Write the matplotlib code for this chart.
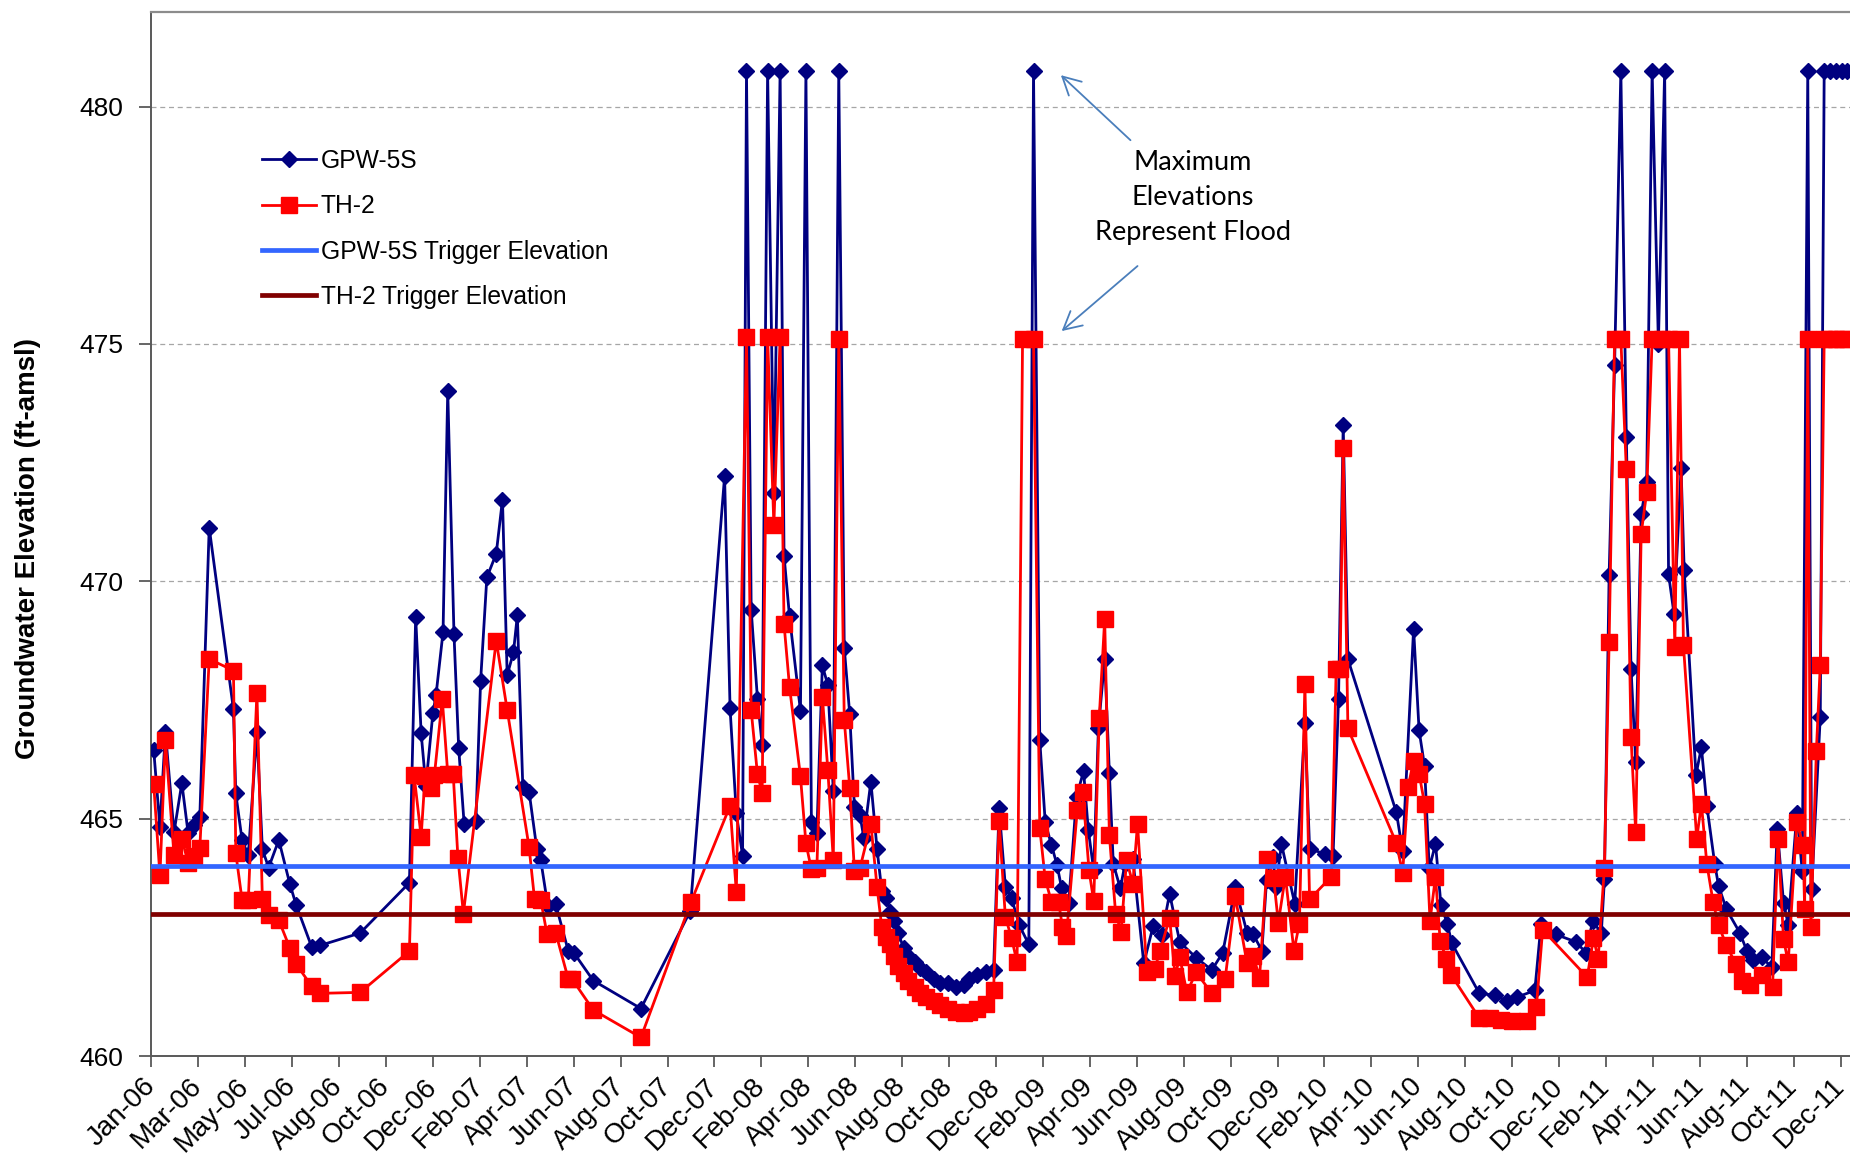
"""
Groundwater elevations at GPW-5S and TH-2 with trigger elevations, 2006-2011
"""

import pandas as pd
import matplotlib
matplotlib.use("Agg")
import matplotlib.pyplot as plt
import matplotlib.dates as mdates

# ---- data ----
gpw_dates = [
    "2006-01-06", "2006-01-14", "2006-01-21", "2006-02-01", "2006-02-11", "2006-02-19", "2006-02-26", "2006-03-06", "2006-03-18", "2006-04-18",
    "2006-04-21", "2006-04-29", "2006-05-07", "2006-05-18", "2006-05-25", "2006-06-02", "2006-06-15", "2006-06-29", "2006-07-07", "2006-07-27",
    "2006-08-07", "2006-09-27", "2006-11-29", "2006-12-07", "2006-12-14", "2006-12-20", "2006-12-29", "2007-01-02", "2007-01-11", "2007-01-17",
    "2007-01-25", "2007-01-31", "2007-02-07", "2007-02-22", "2007-02-28", "2007-03-08", "2007-03-20", "2007-03-28", "2007-04-03", "2007-04-11",
    "2007-04-16", "2007-04-23", "2007-05-01", "2007-05-11", "2007-05-16", "2007-05-25", "2007-06-04", "2007-06-20", "2007-06-27", "2007-07-22",
    "2007-09-21", "2007-11-23", "2008-01-06", "2008-01-13", "2008-01-21", "2008-01-29", "2008-02-03", "2008-02-09", "2008-02-17", "2008-02-23",
    "2008-03-01", "2008-03-09", "2008-03-17", "2008-03-22", "2008-03-29", "2008-04-12", "2008-04-19", "2008-04-26", "2008-05-03", "2008-05-10",
    "2008-05-17", "2008-05-24", "2008-05-31", "2008-06-07", "2008-06-14", "2008-06-20", "2008-06-27", "2008-07-02", "2008-07-11", "2008-07-19",
    "2008-07-25", "2008-07-31", "2008-08-05", "2008-08-10", "2008-08-15", "2008-08-22", "2008-08-28", "2008-09-05", "2008-09-12", "2008-09-20",
    "2008-09-30", "2008-10-07", "2008-10-18", "2008-10-28", "2008-11-07", "2008-11-14", "2008-11-24", "2008-12-05", "2008-12-15", "2008-12-22",
    "2008-12-30", "2009-01-07", "2009-01-17", "2009-01-29", "2009-02-04", "2009-02-12", "2009-02-19", "2009-02-27", "2009-03-06", "2009-03-12",
    "2009-03-21", "2009-03-31", "2009-04-09", "2009-04-15", "2009-04-22", "2009-04-28", "2009-05-06", "2009-05-12", "2009-05-17", "2009-05-26",
    "2009-06-01", "2009-06-11", "2009-06-25", "2009-07-07", "2009-07-18", "2009-07-28", "2009-08-10", "2009-08-31", "2009-09-20", "2009-10-04",
    "2009-10-20", "2009-11-04", "2009-11-12", "2009-11-23", "2009-11-29", "2009-12-07", "2009-12-11", "2009-12-18", "2010-01-04", "2010-01-17",
    "2010-01-23", "2010-02-12", "2010-02-22", "2010-03-01", "2010-03-07", "2010-03-13", "2010-05-14", "2010-05-22", "2010-06-05", "2010-06-12",
    "2010-06-19", "2010-06-25", "2010-07-03", "2010-07-10", "2010-07-18", "2010-07-24", "2010-08-28", "2010-09-17", "2010-10-02", "2010-10-15",
    "2010-11-07", "2010-11-15", "2010-12-04", "2010-12-30", "2011-01-11", "2011-01-20", "2011-01-31", "2011-02-04", "2011-02-10", "2011-02-17",
    "2011-02-25", "2011-03-04", "2011-03-10", "2011-03-16", "2011-03-23", "2011-03-30", "2011-04-06", "2011-04-14", "2011-04-22", "2011-04-27",
    "2011-05-04", "2011-05-13", "2011-05-17", "2011-06-01", "2011-06-08", "2011-06-15", "2011-06-25", "2011-06-30", "2011-07-10", "2011-07-27",
    "2011-08-05", "2011-08-13", "2011-08-24", "2011-09-06", "2011-09-13", "2011-09-21", "2011-09-27", "2011-10-08", "2011-10-15", "2011-10-22",
    "2011-10-27", "2011-11-07", "2011-11-12", "2011-11-20", "2011-11-27", "2011-12-05", "2011-12-11",
]
gpw_elev = [
    466.45, 464.83, 466.83, 464.71, 465.75, 464.70, 464.87, 465.04, 471.13, 467.30,
    465.53, 464.55, 464.23, 466.83, 464.35, 463.97, 464.55, 463.63, 463.19, 462.30,
    462.33, 462.59, 463.65, 469.25, 466.80, 465.69, 467.22, 467.60, 468.93, 474.01,
    468.88, 466.49, 464.88, 464.94, 467.89, 470.08, 470.58, 471.72, 468.02, 468.50,
    469.28, 465.66, 465.57, 464.35, 464.12, 463.16, 463.20, 462.22, 462.18, 461.59,
    461.00, 463.05, 472.21, 467.32, 465.11, 464.22, 480.75, 469.40, 467.53, 466.56,
    480.75, 471.85, 480.75, 470.54, 469.26, 467.27, 480.75, 464.92, 464.70, 468.23,
    467.81, 465.59, 480.75, 468.60, 467.20, 465.25, 465.08, 464.60, 465.78, 464.35,
    463.48, 463.32, 463.04, 462.84, 462.59, 462.27, 462.10, 461.98, 461.86, 461.78,
    461.62, 461.54, 461.54, 461.45, 461.49, 461.62, 461.70, 461.78, 461.82, 465.22,
    463.57, 463.32, 462.75, 462.35, 480.75, 466.65, 464.92, 464.44, 464.03, 463.53,
    463.22, 465.46, 466.00, 464.77, 463.91, 466.91, 468.36, 465.96, 464.05, 463.53,
    464.05, 464.16, 461.95, 462.74, 462.55, 463.42, 462.40, 462.07, 461.81, 462.18,
    463.55, 462.60, 462.56, 462.22, 463.71, 464.20, 463.55, 464.47, 463.21, 467.01,
    464.37, 464.25, 464.21, 467.52, 473.30, 468.36, 465.13, 464.31, 469.00, 466.86,
    466.11, 463.95, 464.47, 463.18, 462.79, 462.37, 461.32, 461.28, 461.16, 461.24,
    461.38, 462.79, 462.56, 462.40, 462.18, 462.84, 462.59, 463.72, 470.13, 474.56,
    480.75, 473.04, 468.16, 466.20, 471.41, 472.09, 480.75, 475.00, 480.75, 470.15,
    469.31, 472.38, 470.23, 465.92, 466.50, 465.27, 464.05, 463.58, 463.09, 462.60,
    462.22, 462.03, 462.08, 461.87, 464.78, 463.23, 462.77, 465.11, 463.89, 480.75,
    463.51, 467.15, 480.75, 480.75, 480.75, 480.75, 480.75,
]

th2_dates = [
    "2006-01-06", "2006-01-14", "2006-01-21", "2006-02-01", "2006-02-11", "2006-02-19", "2006-02-26", "2006-03-06", "2006-03-18", "2006-04-18",
    "2006-04-21", "2006-04-29", "2006-05-07", "2006-05-18", "2006-05-25", "2006-06-02", "2006-06-15", "2006-06-29", "2006-07-07", "2006-07-27",
    "2006-08-07", "2006-09-27", "2006-11-29", "2006-12-05", "2006-12-14", "2006-12-19", "2006-12-26", "2006-12-31", "2007-01-10", "2007-01-17",
    "2007-01-24", "2007-01-30", "2007-02-06", "2007-03-20", "2007-04-03", "2007-05-01", "2007-05-08", "2007-05-16", "2007-05-24", "2007-06-04",
    "2007-06-20", "2007-06-25", "2007-07-22", "2007-09-21", "2007-11-24", "2008-01-13", "2008-01-21", "2008-02-03", "2008-02-09", "2008-02-17",
    "2008-02-23", "2008-03-01", "2008-03-09", "2008-03-17", "2008-03-22", "2008-03-29", "2008-04-12", "2008-04-19", "2008-04-26", "2008-05-03",
    "2008-05-10", "2008-05-17", "2008-05-24", "2008-05-31", "2008-06-07", "2008-06-14", "2008-06-20", "2008-06-27", "2008-07-11", "2008-07-19",
    "2008-07-25", "2008-07-31", "2008-08-05", "2008-08-10", "2008-08-15", "2008-08-22", "2008-08-28", "2008-09-05", "2008-09-12", "2008-09-20",
    "2008-09-30", "2008-10-07", "2008-10-18", "2008-10-28", "2008-11-07", "2008-11-14", "2008-11-24", "2008-12-05", "2008-12-15", "2008-12-22",
    "2008-12-30", "2009-01-07", "2009-01-14", "2009-01-21", "2009-02-04", "2009-02-12", "2009-02-19", "2009-02-27", "2009-03-08", "2009-03-13",
    "2009-03-18", "2009-04-01", "2009-04-08", "2009-04-16", "2009-04-22", "2009-04-29", "2009-05-06", "2009-05-12", "2009-05-20", "2009-05-27",
    "2009-06-03", "2009-06-11", "2009-06-17", "2009-06-29", "2009-07-09", "2009-07-16", "2009-07-28", "2009-08-04", "2009-08-10", "2009-08-19",
    "2009-08-31", "2009-09-20", "2009-10-07", "2009-10-20", "2009-11-04", "2009-11-12", "2009-11-20", "2009-11-30", "2009-12-08", "2009-12-14",
    "2009-12-23", "2010-01-03", "2010-01-10", "2010-01-17", "2010-01-23", "2010-02-20", "2010-02-26", "2010-03-03", "2010-03-07", "2010-03-13",
    "2010-05-14", "2010-05-22", "2010-05-29", "2010-06-05", "2010-06-12", "2010-06-19", "2010-06-26", "2010-07-03", "2010-07-09", "2010-07-17",
    "2010-07-23", "2010-08-28", "2010-09-11", "2010-09-25", "2010-10-09", "2010-10-28", "2010-11-09", "2010-11-17", "2011-01-13", "2011-01-21",
    "2011-01-27", "2011-02-04", "2011-02-10", "2011-02-17", "2011-02-25", "2011-03-04", "2011-03-10", "2011-03-16", "2011-03-23", "2011-03-30",
    "2011-04-06", "2011-04-19", "2011-04-27", "2011-05-05", "2011-05-11", "2011-05-16", "2011-06-02", "2011-06-08", "2011-06-15", "2011-06-23",
    "2011-06-30", "2011-07-10", "2011-07-22", "2011-07-30", "2011-08-09", "2011-08-24", "2011-09-07", "2011-09-14", "2011-09-21", "2011-09-27",
    "2011-10-08", "2011-10-16", "2011-10-18", "2011-10-22", "2011-10-26", "2011-11-02", "2011-11-07", "2011-11-12", "2011-11-20", "2011-11-27",
    "2011-12-05", "2011-12-11",
]
th2_elev = [
    465.73, 463.81, 466.65, 464.23, 464.58, 464.07, 464.22, 464.38, 468.36, 468.12,
    464.27, 463.29, 463.29, 467.65, 463.30, 462.97, 462.86, 462.28, 461.94, 461.47,
    461.32, 461.34, 462.21, 465.91, 464.62, 465.90, 465.64, 465.92, 467.52, 465.95,
    465.94, 464.18, 463.00, 468.75, 467.29, 464.40, 463.30, 463.28, 462.56, 462.60,
    461.63, 461.62, 460.97, 460.39, 463.24, 465.27, 463.46, 475.15, 467.28, 465.94,
    465.54, 475.15, 471.18, 475.15, 469.10, 467.78, 465.89, 464.48, 463.93, 463.97,
    467.57, 466.03, 464.13, 475.10, 467.08, 465.65, 463.90, 463.95, 464.89, 463.55,
    462.71, 462.51, 462.35, 462.10, 461.90, 461.74, 461.58, 461.45, 461.33, 461.25,
    461.15, 461.07, 461.00, 460.93, 460.90, 460.93, 460.98, 461.10, 461.40, 464.95,
    462.93, 462.48, 461.97, 475.10, 475.10, 464.80, 463.72, 463.25, 463.25, 462.72,
    462.52, 465.19, 465.57, 463.91, 463.26, 467.11, 469.20, 464.65, 463.00, 462.62,
    464.13, 463.63, 464.89, 461.76, 461.84, 462.22, 462.91, 461.69, 462.08, 461.34,
    461.76, 461.32, 461.62, 463.36, 461.95, 462.11, 461.65, 464.14, 463.75, 462.81,
    463.78, 462.22, 462.79, 467.83, 463.30, 463.78, 468.16, 468.16, 472.80, 466.90,
    464.48, 463.85, 465.67, 466.22, 465.95, 465.31, 462.85, 463.78, 462.42, 462.04,
    461.71, 460.80, 460.80, 460.76, 460.74, 460.73, 461.04, 462.66, 461.66, 462.48,
    462.05, 463.97, 468.73, 475.10, 475.10, 472.36, 466.72, 464.71, 471.00, 471.87,
    475.10, 475.10, 475.10, 468.62, 475.10, 468.66, 464.58, 465.31, 464.04, 463.24,
    462.75, 462.33, 461.94, 461.57, 461.50, 461.70, 461.46, 464.58, 462.46, 461.97,
    464.92, 464.45, 463.10, 475.10, 462.72, 466.43, 468.24, 475.10, 475.10, 475.10,
    475.10, 475.10,
]

gpw_trigger = 464.0
th2_trigger = 463.0

# Excel date axis: a label every 60 days from the axis minimum
tick_start = "2006-01-03"
tick_step = "60D"
n_ticks = 37
x_end = "2011-12-15"

plt.rcParams["font.family"] = ["Liberation Sans", "DejaVu Sans"]


def main():
    fig = plt.figure(figsize=(18.5, 11.56), dpi=100)
    ax = fig.add_axes([0.0818, 0.0865, 0.9182, 0.9035])

    ax.plot(pd.to_datetime(gpw_dates), gpw_elev, color="#000080", lw=2.0,
            marker="D", ms=8.5, label="GPW-5S", zorder=3)
    ax.plot(pd.to_datetime(th2_dates), th2_elev, color="#FF0000", lw=2.0,
            marker="s", ms=11, label="TH-2", zorder=4)
    ax.axhline(gpw_trigger, color="#3366FF", lw=3.4,
               label="GPW-5S Trigger Elevation", zorder=5)
    ax.axhline(th2_trigger, color="#800000", lw=3.4,
               label="TH-2 Trigger Elevation", zorder=5)

    ticks = pd.date_range(tick_start, periods=n_ticks, freq=tick_step)
    ax.set_xticks(ticks)
    ax.set_xticklabels([t.strftime("%b-%y") for t in ticks], rotation=45,
                       ha="right", va="center", rotation_mode="anchor", fontsize=20)
    ax.set_xlim(ticks[0], pd.Timestamp(x_end))
    ax.set_ylim(460, 482)
    ax.set_yticks([460, 465, 470, 475, 480])

    ax.grid(axis="y", color="#a6a6a6", linestyle=(0, (4, 3)), lw=0.9)
    ax.set_axisbelow(True)

    ax.tick_params(axis="y", direction="out", length=9, width=1.3,
                   color="#595959", labelsize=19, pad=11)
    ax.tick_params(axis="x", direction="out", length=8, width=1.3,
                   color="#595959", pad=11)

    ax.spines["right"].set_visible(False)
    ax.spines["top"].set_color("#8c8c8c")
    ax.spines["top"].set_linewidth(1.6)
    for side in ("left", "bottom"):
        ax.spines[side].set_color("#595959")
        ax.spines[side].set_linewidth(1.4)

    ax.set_ylabel("Groundwater Elevation (ft-amsl)", fontsize=20, fontweight="bold")
    ax.yaxis.set_label_coords(-0.065, 0.486)

    ax.legend(loc="upper left", bbox_to_anchor=(0.0592, 0.878), frameon=False,
              fontsize=17.7, handlelength=2.2, handletextpad=0.2,
              labelspacing=0.87, borderaxespad=0, borderpad=0.4, numpoints=1)

    # flood note with its two arrows
    ax.text(mdates.date2num(pd.Timestamp("2009-08-27")), 478.09,
            "Maximum\nElevations\nRepresent Flood", ha="center", va="center",
            fontsize=19.5, family=["Lato", "DejaVu Sans"], linespacing=1.5)
    arrow = dict(arrowstyle="->,head_length=0.64,head_width=0.34",
                 color="#4A7EBB", lw=1.3, mutation_scale=20, shrinkA=0, shrinkB=0)
    ax.annotate("", xy=(mdates.date2num(pd.Timestamp("2009-03-11")), 480.66),
                xytext=(mdates.date2num(pd.Timestamp("2009-06-08")), 479.29),
                arrowprops=arrow)
    ax.annotate("", xy=(mdates.date2num(pd.Timestamp("2009-03-12")), 475.27),
                xytext=(mdates.date2num(pd.Timestamp("2009-06-17")), 476.64),
                arrowprops=arrow)

    fig.savefig("out.png", dpi=100)
    plt.close(fig)


if __name__ == "__main__":
    main()
